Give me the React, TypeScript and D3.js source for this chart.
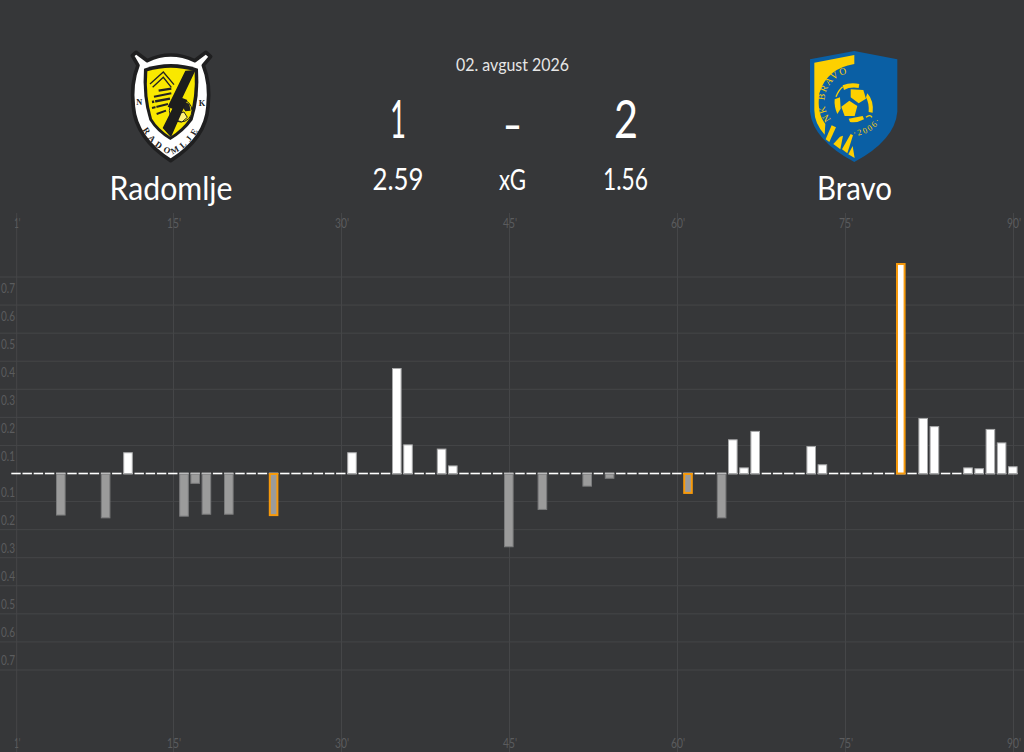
import React from "react";
import * as d3 from "d3";

const allMinutes = d3.range(1, 91);
const homeMinutes = [11, 31, 35, 36, 39, 40, 65, 66, 67, 72, 73, 80, 82, 83, 86, 87, 88, 89, 90];
const homeValues = [0.074, 0.074, 0.374, 0.102, 0.087, 0.027, 0.12, 0.02, 0.15, 0.096, 0.031, 0.748, 0.196, 0.167, 0.02, 0.017, 0.157, 0.109, 0.024];
const awayMinutes = [5, 9, 16, 17, 18, 20, 24, 45, 48, 52, 54, 61, 64];
const awayValues = [0.148, 0.158, 0.152, 0.035, 0.145, 0.145, 0.15, 0.261, 0.128, 0.045, 0.017, 0.071, 0.158];
const homeGoals = [80];
const awayGoals = [24, 61];
const xTicks = [1, 15, 30, 45, 60, 75, 90];
const yTicks = [0.1, 0.2, 0.3, 0.4, 0.5, 0.6, 0.7];
const homeName = "Radomlje";
const awayName = "Bravo";
const matchDate = "02. avgust 2026";
const score = ["1", "–", "2"];
const xgRow = ["2.59", "xG", "1.56"];

const W = 1024;
const H = 752;
const BG = "#363739";
const GRID = "#454648";
const TICK = "#5b5c5e";
const FONT = "Lato, 'Open Sans', sans-serif";

const x = d3.scaleLinear().domain([1, 90]).range([16.7, 1013.5]);
const y = d3.scaleLinear().domain([-0.7, 0.7]).range([670, 277]);
const BAR_W = 8.6;
const BAR_SHIFT = -0.7;

function Label(p: { cx: number; base: number; size: number; len: number; text: string; fill?: string; weight?: number }) {
  return (
    <text
      x={p.cx}
      y={p.base}
      textAnchor="middle"
      fontSize={p.size}
      fontWeight={p.weight ?? 400}
      fill={p.fill ?? "#fff"}
      fontFamily={FONT}
      textLength={p.len}
      lengthAdjust="spacingAndGlyphs"
    >
      {p.text}
    </text>
  );
}

function RadomljeLogo() {
  const serif = "'Liberation Serif', serif";
  return (
    <g transform="translate(0,40) scale(0.3333)">
      <path
        d="M397,47 L408,37 L442,62 Q512,28 584,62 L618,37 L632,50 L610,76 Q632,130 624,200 Q618,295 512,362 Q408,295 400,200 Q392,130 414,76 Z"
        fill="#fff"
        stroke="#1f1f20"
        strokeWidth={11}
        strokeLinejoin="round"
      />
      <path d="M432,86 Q512,58 594,86 Q600,170 578,240 Q552,276 511,300 Q470,276 448,240 Q426,170 432,86 Z" fill="#1d1d1d" />
      <path d="M442,94 Q512,72 584,94 Q588,170 568,236 Q548,266 511,290 Q474,266 456,236 Q436,170 442,94 Z" fill="#f9e800" />
      <path d="M450,132 L490,96 L522,134" fill="none" stroke="#222" strokeWidth={4} />
      <path d="M458,142 L490,112 L514,142" fill="none" stroke="#222" strokeWidth={4} />
      <path d="M476,152 L514,146" stroke="#222" strokeWidth={7} />
      <path d="M462,170 L514,160" stroke="#222" strokeWidth={6} />
      <path d="M456,186 L510,176" stroke="#222" strokeWidth={7} />
      <path d="M456,204 L504,192" stroke="#222" strokeWidth={6} />
      <path d="M470,222 L498,212" stroke="#222" strokeWidth={6} />
      <path d="M462,176 L470,210" stroke="#f9e800" strokeWidth={3} />
      <circle cx="542" cy="212" r="34" fill="#f9e800" stroke="#222" strokeWidth={3} />
      <path d="M530,222 L552,216 L562,232 L546,246 L526,240 Z" fill="#fff27a" stroke="#222" strokeWidth={3} />
      <path d="M548,182 L568,192 L572,212 L556,214 L544,196 Z" fill="#222" />
      <path d="M556,92 L587,90 L547,174 L562,180 L513,292 L488,264 L517,206 L503,200 Z" fill="#1d1d1d" />
      <text x="418" y="195" fontSize="25" fontWeight={700} textAnchor="middle" fontFamily={serif} fill="#222">N</text>
      <text x="606" y="198" fontSize="25" fontWeight={700} textAnchor="middle" fontFamily={serif} fill="#222">K</text>
      <path id="radomljeArc" d="M418,250 C440,300 475,332 512,344 C550,332 585,300 608,244" fill="none" />
      <text fontSize="26" fontWeight={700} fontFamily={serif} fill="#222" letterSpacing={11}>
        <textPath href="#radomljeArc" startOffset="50%" textAnchor="middle">
          RADOMLJE
        </textPath>
      </text>
    </g>
  );
}

function BravoLogo() {
  const blue = "#0a5fa4";
  const gold = "#fdd000";
  const serif = "'Liberation Serif', serif";
  return (
    <g transform="translate(760,40) scale(0.3333)">
      <path d="M150,58 L283,33 L412,58 L412,215 Q405,300 283,366 Q160,300 150,215 Z" fill={blue} />
      <path d="M163,68 L283,45 L283,72 Q200,85 178,160 Q170,220 196,252 L194,284 Q163,250 163,210 Z" fill={gold} />
      <path d="M215,256 L228,262 L208,306 L197,298 Z" fill={gold} />
      <path d="M240,290 L249,287 L241,328 L220,312 Z" fill={gold} />
      <path d="M272,282 L279,286 L262,340 L246,328 Z" fill={gold} />
      <path d="M278,318 L284,354 L265,343 Z" fill={gold} />
      <path id="bravoTop" d="M214,238 A78,78 0 0 1 340,128" fill="none" />
      <text fontSize="29" fontFamily={serif} fill={gold} letterSpacing={4}>
        <textPath href="#bravoTop" startOffset="0">NK BRAVO</textPath>
      </text>
      <path id="bravoBottom" d="M280,287 A92,92 0 0 0 374,190" fill="none" />
      <text fontSize="25" fontFamily={serif} fill={gold} letterSpacing={6}>
        <textPath href="#bravoBottom" startOffset="0">·2006·</textPath>
      </text>
      <path d="M268,182 L292,198 L284,228 L254,228 L244,200 Z" fill={gold} />
      <path d="M272,148 L310,150 L318,176 L296,190 L272,172 Z" fill={gold} />
      <path d="M248,136 Q272,126 298,132 L296,144 Q270,140 252,150 Z" fill={gold} />
      <path d="M322,160 Q342,182 338,218 L326,216 Q328,190 318,172 Z" fill={gold} />
      <path d="M224,178 L240,172 L242,206 L232,222 Q222,200 224,178 Z" fill={gold} />
      <path d="M266,236 L308,228 L312,238 Q290,250 270,246 Z" fill={gold} />
      <path d="M228,170 Q236,150 248,140" fill="none" stroke={gold} strokeWidth={4} />
      <path d="M318,232 Q330,222 336,232" fill="none" stroke={gold} strokeWidth={4} />
    </g>
  );
}

export default function App() {
  const y0 = y(0);
  return (
    <svg
      width={W}
      height={H}
      viewBox={`0 0 ${W} ${H}`}
      style={{ position: "fixed", left: 0, top: 0, display: "block", background: BG }}
    >
      <rect width={W} height={H} fill={BG} />

      <RadomljeLogo />
      <BravoLogo />

      <Label cx={171} base={200} size={33} len={123} text={homeName} />
      <Label cx={854.5} base={200} size={33} len={75} text={awayName} />
      <Label cx={512.5} base={71} size={18} len={113} text={matchDate} fill="#e6e6e6" />
      <Label cx={398} base={138} size={53} len={16} text={score[0]} />
      <Label cx={512.5} base={143} size={53} len={19} text={score[1]} />
      <Label cx={626} base={138} size={53} len={24} text={score[2]} />
      <Label cx={398} base={190} size={31} len={51} text={xgRow[0]} />
      <Label cx={512.5} base={190} size={29} len={27} text={xgRow[1]} />
      <Label cx={625.5} base={190} size={31} len={45} text={xgRow[2]} />

      {xTicks.map((m) => (
        <g key={m}>
          <line x1={x(m)} x2={x(m)} y1={213} y2={H} stroke={GRID} strokeWidth={1} />
          <Label cx={x(m) + 0.5} base={228} size={13.5} len={m === 1 ? 6 : 14} text={`${m}'`} fill={TICK} />
          <Label cx={x(m) + 0.5} base={748} size={13.5} len={m === 1 ? 6 : 14} text={`${m}'`} fill={TICK} />
        </g>
      ))}

      {yTicks.map((t) => (
        <g key={t}>
          <line x1={0} x2={W} y1={y(t)} y2={y(t)} stroke={GRID} strokeWidth={1} />
          <line x1={0} x2={W} y1={y(-t)} y2={y(-t)} stroke={GRID} strokeWidth={1} />
          <Label cx={8} base={y(t) + 16} size={14} len={14} text={t.toFixed(1)} fill={TICK} />
          <Label cx={8} base={y(-t) - 5} size={14} len={14} text={t.toFixed(1)} fill={TICK} />
        </g>
      ))}

      {allMinutes.map((m) => (
        <rect key={m} x={x(m) + BAR_SHIFT - 4.7} y={y0 - 0.8} width={9.4} height={1.6} fill="#fff" />
      ))}

      {homeValues.map((v, i) => {
        const m = homeMinutes[i];
        const goal = homeGoals.includes(m);
        const inset = goal ? 0.5 : 0;
        return (
          <rect
            key={`h${m}`}
            x={x(m) + BAR_SHIFT - BAR_W / 2 + inset}
            y={y(v) + inset}
            width={BAR_W - 2 * inset}
            height={y0 - y(v) - inset}
            fill="#fff"
            stroke={goal ? "#f79a0c" : "#a8a9aa"}
            strokeWidth={goal ? 2 : 1}
          />
        );
      })}

      {awayValues.map((v, i) => {
        const m = awayMinutes[i];
        const goal = awayGoals.includes(m);
        const inset = goal ? 0.5 : 0;
        return (
          <rect
            key={`a${m}`}
            x={x(m) + BAR_SHIFT - BAR_W / 2 + inset}
            y={y0 + 0.5}
            width={BAR_W - 2 * inset}
            height={y(-v) - y0 - 0.5 - inset}
            fill="#9b9b9b"
            stroke={goal ? "#f79a0c" : "#7a7b7c"}
            strokeWidth={goal ? 2 : 1}
          />
        );
      })}
    </svg>
  );
}
